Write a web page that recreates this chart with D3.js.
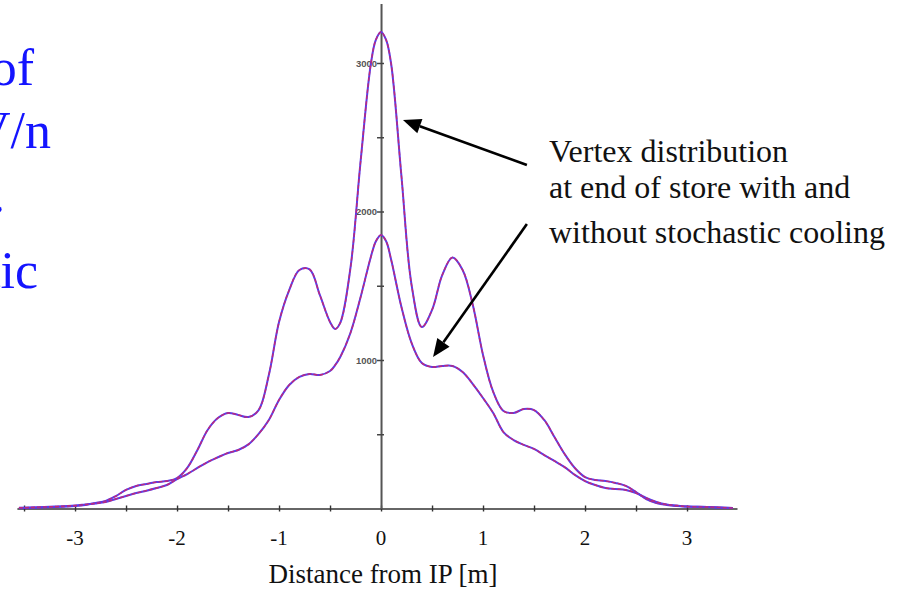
<!DOCTYPE html>
<html>
<head>
<meta charset="utf-8">
<script src="https://cdn.jsdelivr.net/npm/d3@7"></script>
<style>
  html, body { margin: 0; padding: 0; background: #ffffff; }
  svg { display: block; }
</style>
</head>
<body>
<svg id="chart" width="897" height="589"></svg>
<script>
// Distance from the interaction point [m]
const positions = [-3.55, -3.2, -3.0, -2.9, -2.8, -2.7, -2.6, -2.5, -2.4, -2.3, -2.2, -2.1,
  -2.0, -1.9, -1.8, -1.7, -1.6, -1.5, -1.4, -1.3, -1.2, -1.1, -1.0, -0.9, -0.8, -0.7,
  -0.6, -0.5, -0.45, -0.4, -0.3, -0.2, -0.1, -0.05, 0, 0.05, 0.1, 0.2, 0.3, 0.4, 0.5, 0.6, 0.7,
  0.8, 0.9, 1.0, 1.1, 1.2, 1.3, 1.4, 1.5, 1.6, 1.7, 1.8, 1.9, 2.0, 2.1, 2.2, 2.3,
  2.4, 2.5, 2.6, 2.7, 2.8, 2.9, 3.0, 3.2, 3.45];

// Vertex counts, store with stochastic cooling (narrow, tall peak)
const withCooling = [2, 10, 17, 24, 37, 51, 84, 125, 152, 165, 178, 185,
  205, 273, 394, 529, 609, 643, 630, 616, 663, 899, 1256, 1471, 1606, 1610,
  1438, 1256, 1209, 1250, 1618, 2340, 2993, 3157, 3209, 3155, 2990, 2239, 1503, 1222, 1337, 1572, 1690,
  1606, 1370, 1034, 785, 657, 643, 670, 663, 596, 482, 367, 273, 212, 192, 185, 172,
  152, 111, 64, 37, 24, 17, 13, 10, 3];

// Vertex counts, store without stochastic cooling
const withoutCooling = [5, 13, 20, 27, 34, 44, 64, 84, 104, 120, 138, 158,
  198, 232, 273, 313, 345, 374, 394, 432, 502, 596, 731, 832, 886, 906,
  899, 926, 965, 1020, 1182, 1424, 1694, 1800, 1842, 1800, 1673, 1357, 1114, 980, 953, 960, 960,
  919, 838, 744, 643, 515, 461, 428, 401, 360, 320, 279, 226, 185, 158, 138, 131,
  125, 104, 71, 44, 27, 20, 13, 10, 3];

const xTicks = [-3.5, -3, -2.5, -2, -1.5, -1, -0.5, 0, 0.5, 1, 1.5, 2, 2.5, 3];
const xLabels = [-3, -2, -1, 0, 1, 2, 3];
const yTicks = [500, 1000, 1500, 2000, 2500, 3000];
const yLabels = [1000, 2000, 3000];

const slideLines = ["of", "V/n", ".", "tic"];
const noteLines = ["Vertex distribution", "at end of store with and", "without stochastic cooling"];

// Arrows pointing from the note to each curve, in data coordinates
const arrows = [
  { from: [1.43, 2313], to: [0.215, 2616] },
  { from: [1.43, 1915], to: [0.51, 1020] }
];

const svg = d3.select("#chart");

const x = d3.scaleLinear().domain([-3.57, 3.49]).range([16.9, 737]);
const y = d3.scaleLinear().domain([0, 3400]).range([508.5, 3.6]);

// Left-hand slide text, cut off at the page edge
const slideG = svg.append("g")
  .attr("font-family", "'Liberation Serif', 'Times New Roman', serif")
  .attr("font-size", 52)
  .attr("fill", "#1414ff")
  .attr("text-anchor", "end");
const slideX = [34, 51, 5, 38];
const slideY = [85, 148, 212, 288];
slideLines.forEach((t, i) => {
  slideG.append("text").attr("x", slideX[i]).attr("y", slideY[i]).text(t);
});

// x axis: line with small crossing ticks every 0.5 m
const xAxis = svg.append("g")
  .attr("transform", `translate(0,${y(0)})`)
  .call(d3.axisBottom(x).tickValues(xTicks).tickSize(3).tickSizeOuter(0).tickFormat(""));
xAxis.select(".domain").attr("stroke", "#333").attr("stroke-width", 1.6);
xAxis.selectAll(".tick line").attr("y1", -3).attr("y2", 3).attr("stroke", "#333").attr("stroke-width", 1.4);

svg.append("g")
  .attr("font-family", "'Liberation Serif', 'Times New Roman', serif")
  .attr("font-size", 21)
  .attr("fill", "#111")
  .attr("text-anchor", "middle")
  .selectAll("text")
  .data(xLabels)
  .join("text")
  .attr("x", d => x(d))
  .attr("y", 545)
  .text(d => String(d));

svg.append("text")
  .attr("x", x(0) + 2)
  .attr("y", 583)
  .attr("text-anchor", "middle")
  .attr("font-family", "'Liberation Serif', 'Times New Roman', serif")
  .attr("font-size", 27)
  .attr("fill", "#111")
  .text("Distance from IP [m]");

// y axis drawn on x = 0
const yAxis = svg.append("g")
  .attr("transform", `translate(${x(0)},0)`)
  .call(d3.axisLeft(y).tickValues(yTicks).tickSize(4).tickSizeOuter(0).tickFormat(""));
yAxis.select(".domain").attr("stroke", "#555").attr("stroke-width", 2);
yAxis.selectAll(".tick line").attr("x1", -4).attr("x2", 3).attr("stroke", "#444").attr("stroke-width", 1.5);

svg.append("g")
  .attr("font-family", "'Liberation Sans', Arial, sans-serif")
  .attr("font-size", 9.5)
  .attr("font-weight", "bold")
  .attr("fill", "#555")
  .attr("text-anchor", "end")
  .selectAll("text")
  .data(yLabels)
  .join("text")
  .attr("x", x(0) - 4)
  .attr("y", d => y(d) + 3.5)
  .text(d => d);

// Curves: blue trace with a red dashed trace on top
const line = d3.line().curve(d3.curveCatmullRom.alpha(0.5));
const series = [withCooling, withoutCooling];
series.forEach(vals => {
  const pts = positions.map((p, i) => [x(p), y(vals[i])]);
  svg.append("path")
    .attr("d", line(pts))
    .attr("fill", "none")
    .attr("stroke", "#5a3ce8")
    .attr("stroke-width", 2);
  svg.append("path")
    .attr("d", line(pts))
    .attr("fill", "none")
    .attr("stroke", "#c0287a")
    .attr("stroke-width", 1.4)
    .attr("stroke-dasharray", "4,2");
});

// Annotation text
const noteG = svg.append("g")
  .attr("font-family", "'Liberation Serif', 'Times New Roman', serif")
  .attr("font-size", 32)
  .attr("fill", "#111");
const noteY = [162, 198, 243];
noteLines.forEach((t, i) => {
  noteG.append("text").attr("x", 549).attr("y", noteY[i]).text(t);
});

// Arrows
arrows.forEach(a => {
  const x1 = x(a.from[0]), y1 = y(a.from[1]);
  const x2 = x(a.to[0]), y2 = y(a.to[1]);
  const ang = Math.atan2(y2 - y1, x2 - x1);
  const len = 18, half = 7.5;
  const bx = x2 - len * Math.cos(ang), by = y2 - len * Math.sin(ang);
  svg.append("line")
    .attr("x1", x1).attr("y1", y1).attr("x2", bx).attr("y2", by)
    .attr("stroke", "#000").attr("stroke-width", 2.6);
  const px = -Math.sin(ang) * half, py = Math.cos(ang) * half;
  svg.append("path")
    .attr("d", `M${x2},${y2}L${bx + px},${by + py}L${bx - px},${by - py}Z`)
    .attr("fill", "#000");
});
</script>
</body>
</html>
